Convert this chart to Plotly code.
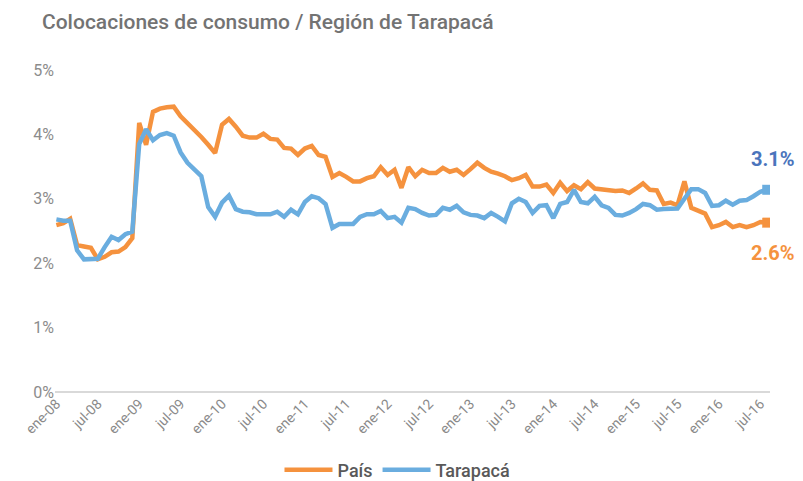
import plotly.graph_objects as go

# ---- data (percent) ----
month_abbr = ["ene", "feb", "mar", "abr", "may", "jun", "jul", "ago", "sep", "oct", "nov", "dic"]
years = ["08", "09", "10", "11", "12", "13", "14", "15", "16"]
months = [f"{m}-{y}" for y in years for m in month_abbr][:104]   # ene-08 .. ago-16

pais = [
    2.59, 2.62, 2.69, 2.28, 2.26, 2.24, 2.06, 2.10, 2.17, 2.18, 2.25, 2.39,
    4.18, 3.84, 4.35, 4.40, 4.42, 4.43, 4.28, 4.18, 4.07, 3.96, 3.84, 3.71,
    4.15, 4.24, 4.12, 3.98, 3.95, 3.95, 4.01, 3.93, 3.92, 3.79, 3.78, 3.68,
    3.78, 3.82, 3.68, 3.65, 3.34, 3.40, 3.34, 3.27, 3.27, 3.32, 3.35, 3.49,
    3.37, 3.45, 3.17, 3.49, 3.35, 3.45, 3.40, 3.40, 3.48, 3.42, 3.45, 3.37,
    3.46, 3.56, 3.48, 3.42, 3.39, 3.35, 3.29, 3.32, 3.37, 3.19, 3.19, 3.22,
    3.09, 3.25, 3.12, 3.21, 3.15, 3.26, 3.16, 3.15, 3.14, 3.12, 3.13, 3.09,
    3.16, 3.24, 3.14, 3.13, 2.92, 2.94, 2.90, 3.27, 2.86, 2.82, 2.77, 2.56,
    2.59, 2.64, 2.56, 2.59, 2.56, 2.59, 2.64, 2.63,
]

tarapaca = [
    2.68, 2.66, 2.66, 2.20, 2.06, 2.07, 2.07, 2.25, 2.41, 2.36, 2.45, 2.49,
    3.85, 4.08, 3.91, 3.99, 4.02, 3.98, 3.72, 3.56, 3.46, 3.35, 2.87, 2.72,
    2.94, 3.05, 2.84, 2.80, 2.79, 2.76, 2.76, 2.76, 2.80, 2.72, 2.83, 2.76,
    2.95, 3.04, 3.01, 2.92, 2.55, 2.61, 2.61, 2.61, 2.72, 2.76, 2.76, 2.81,
    2.70, 2.72, 2.63, 2.86, 2.84, 2.78, 2.74, 2.75, 2.86, 2.83, 2.89, 2.79,
    2.75, 2.74, 2.70, 2.78, 2.72, 2.65, 2.93, 3.00, 2.95, 2.78, 2.89, 2.90,
    2.70, 2.92, 2.95, 3.14, 2.95, 2.93, 3.03, 2.90, 2.86, 2.75, 2.74, 2.78,
    2.84, 2.92, 2.90, 2.83, 2.84, 2.85, 2.85, 3.00, 3.15, 3.15, 3.09, 2.89,
    2.90, 2.97, 2.91, 2.97, 2.98, 3.04, 3.11, 3.14,
]

y_ticks = [0, 1, 2, 3, 4, 5]
y_tick_labels = ["0%", "1%", "2%", "3%", "4%", "5%"]
x_tick_labels = months[::6]

ORANGE = "#F5923E"
BLUE = "#6AADDF"
LABEL_BLUE = "#4A74BC"
FONT = "Roboto"

fig = go.Figure()
fig.add_trace(go.Scatter(x=months, y=pais, name="País", mode="lines",
                         line=dict(color=ORANGE, width=4.5)))
fig.add_trace(go.Scatter(x=months, y=tarapaca, name="Tarapacá", mode="lines",
                         line=dict(color=BLUE, width=4.5)))
# end markers
fig.add_trace(go.Scatter(x=[months[-1]], y=[pais[-1]], mode="markers", showlegend=False,
                         marker=dict(symbol="square", size=10, color=ORANGE)))
fig.add_trace(go.Scatter(x=[months[-1]], y=[tarapaca[-1]], mode="markers", showlegend=False,
                         marker=dict(symbol="square", size=10, color=BLUE)))

fig.add_annotation(x=months[-1], y=tarapaca[-1], text=f"<b>{tarapaca[-1]:.1f}%</b>",
                   showarrow=False, xshift=6, yshift=31,
                   font=dict(family=FONT, size=20, color=LABEL_BLUE))
fig.add_annotation(x=months[-1], y=pais[-1], text=f"<b>{pais[-1]:.1f}%</b>",
                   showarrow=False, xshift=6, yshift=-30,
                   font=dict(family=FONT, size=20, color=ORANGE))

fig.update_layout(
    width=803, height=481,
    margin=dict(l=55, r=33, t=70, b=89, autoexpand=False),
    paper_bgcolor="white", plot_bgcolor="white",
    font=dict(family=FONT, color="#808080"),
    title=dict(text="Colocaciones de consumo / Región de Tarapacá",
               x=42 / 803, xanchor="left", xref="container",
               y=1 - 22 / 481, yanchor="middle", yref="container",
               pad=dict(l=0, r=0, t=0, b=0),
               font=dict(family=FONT, size=21, color="#737373", weight=500)),
    showlegend=True,
    legend=dict(orientation="h", x=0.495, xanchor="center", xref="container",
                y=1 - 470 / 481, yanchor="middle", yref="container",
                font=dict(family=FONT, size=18, color="#595959", weight=500),
                itemwidth=48),
    xaxis=dict(type="category", categoryorder="array", categoryarray=months,
               range=[-0.2, 103.4], automargin=False,
               tickmode="array", tickvals=x_tick_labels, ticktext=x_tick_labels,
               tickangle=-45, tickfont=dict(family=FONT, size=14, color="#8a8a8a"),
               showgrid=False, showline=False, zeroline=False, ticks=""),
    yaxis=dict(range=[0, 5], tickmode="array", tickvals=y_ticks, ticktext=y_tick_labels,
               automargin=False,
               tickfont=dict(family=FONT, size=16, color="#8c8c8c"),
               showgrid=False, zeroline=True, zerolinecolor="#d9d9d9", zerolinewidth=1.5,
               showline=False, ticks=""),
)

fig.write_html("out.html", config={"displayModeBar": False},
               post_script="document.body.style.margin='0';")
